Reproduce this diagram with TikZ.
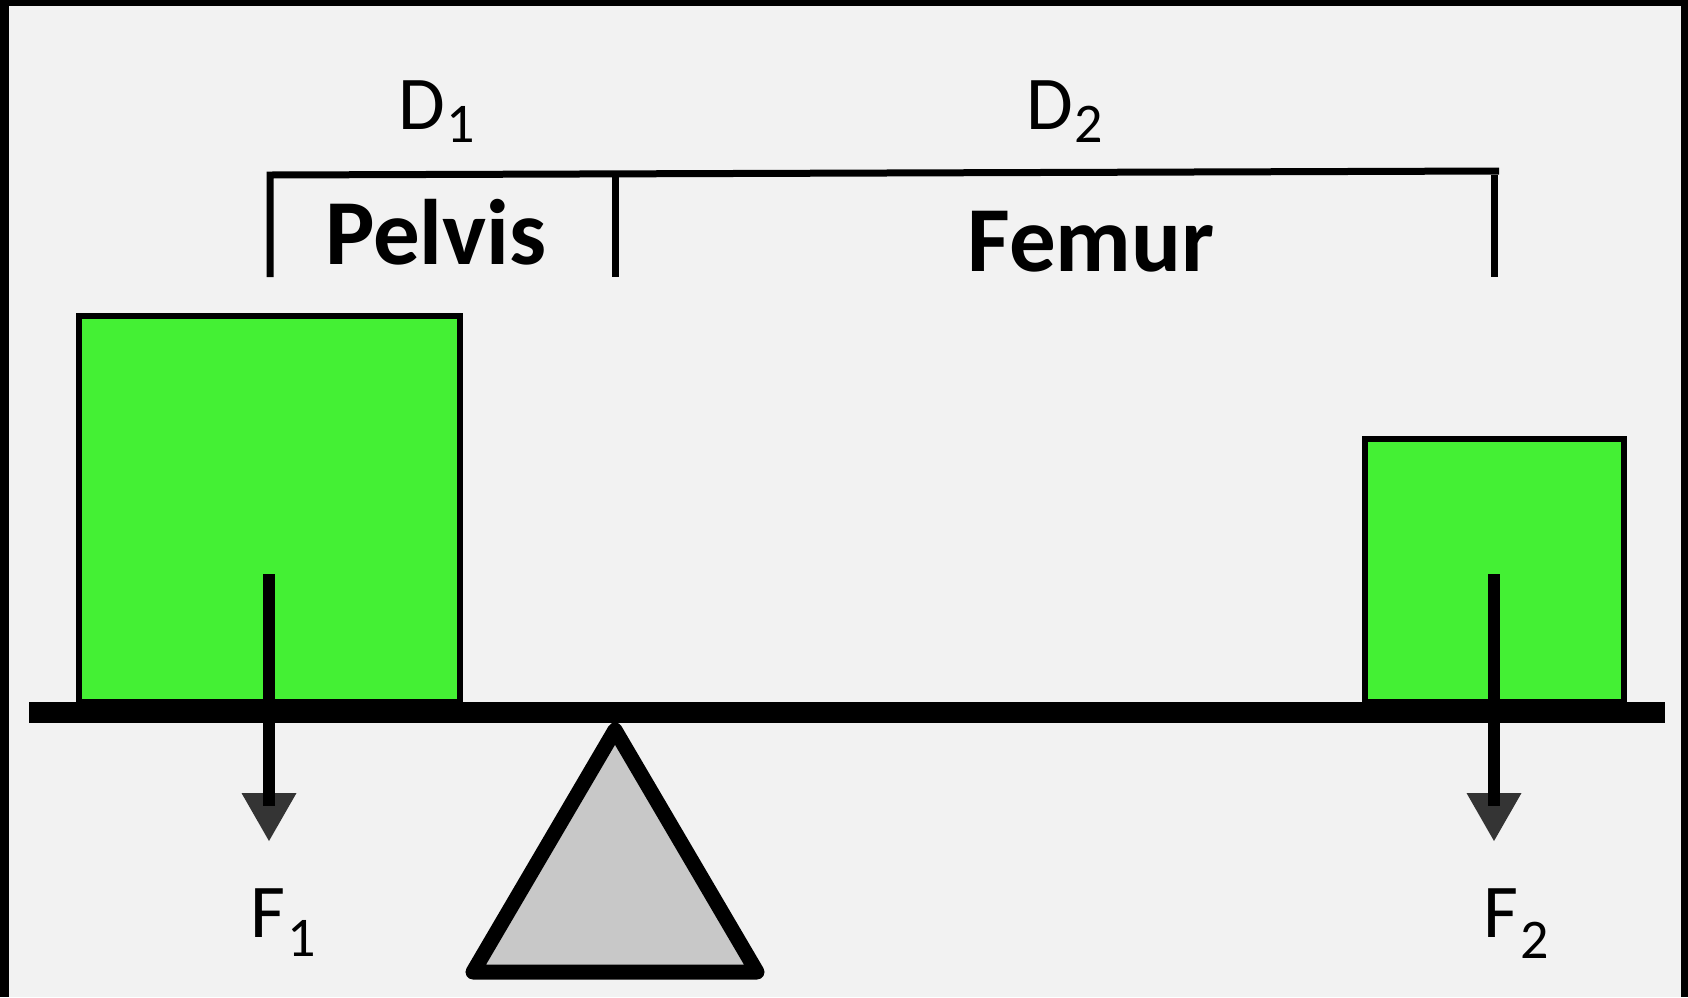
\documentclass[tikz,border=0pt]{standalone}
\usepackage{fontspec}
\newfontfamily\carlito{Carlito}
\definecolor{bgpaper}{RGB}{242,242,242}
\definecolor{weightgreen}{RGB}{68,240,52}
\definecolor{fulcrumgray}{RGB}{200,200,200}
\definecolor{headgray}{RGB}{52,52,52}
\tikzset{
  frame/.style={fill=black},
  paper/.style={fill=bgpaper},
  beam/.style={line width=21pt, black},
  weight/.style={draw=black, fill=weightgreen, line width=6.5pt, inner sep=0pt},
  fulcrum/.style={draw=black, fill=fulcrumgray, line width=15pt, line join=round},
  brace/.style={line width=7pt, black},
  shaft/.style={line width=12pt, black},
  tiphead/.style={fill=headgray},
  dimlabel/.style={font=\carlito\fontsize{76}{80}\selectfont, anchor=base west, inner sep=0pt},
  bonelabel/.style={font=\carlito\bfseries\fontsize{93}{98}\selectfont, anchor=base, inner sep=0pt},
}
\newcommand{\subdigit}[2]{\kern2pt\raisebox{-#2pt}{\fontsize{56}{60}\selectfont #1}}
\begin{document}
\begin{tikzpicture}[x=1pt, y=-1pt]
  \useasboundingbox (0,0) rectangle (1688,997);
  % frame and paper
  \fill[frame] (0,0) rectangle (1688,997);
  \fill[paper] (9,6) rectangle (1681,997);

  % fulcrum (drawn first so the beam covers its apex)
  \draw[fulcrum] (615,730) -- (757,972) -- (473,972) -- cycle;

  % weights resting on the beam
  \node[weight, minimum width=381pt, minimum height=386pt] (w1) at (269.5,509) {};
  \node[weight, minimum width=259pt, minimum height=263pt] (w2) at (1494.5,570.5) {};

  % beam
  \coordinate (beamL) at (29,712.5);
  \coordinate (beamR) at (1665,712.5);
  \draw[beam] (beamL) -- (beamR);

  % load arrows
  \coordinate (f1top) at (269,574);
  \coordinate (f1end) at (269,806);
  \coordinate (f1tip) at (269,841);
  \coordinate (f2top) at (1494,574);
  \coordinate (f2end) at (1494,806);
  \coordinate (f2tip) at (1494,841);
  \fill[tiphead] ([xshift=-27.5pt,yshift=48pt]f1tip) -- ([xshift=27.5pt,yshift=48pt]f1tip) -- (f1tip) -- cycle;
  \fill[tiphead] ([xshift=-27.5pt,yshift=48pt]f2tip) -- ([xshift=27.5pt,yshift=48pt]f2tip) -- (f2tip) -- cycle;
  \draw[shaft] (f1top) -- (f1end);
  \draw[shaft] (f2top) -- (f2end);

  % dimension bracket
  \coordinate (bL) at (270,277);
  \coordinate (bLtop) at (270,175);
  \coordinate (bMtop) at (615,173);
  \coordinate (bM) at (615,277);
  \coordinate (bRend) at (1499,171);
  \coordinate (bRtop) at (1494,175);
  \coordinate (bR) at (1494,277);
  \draw[brace, line join=miter] (bL) -- (bLtop) -- (bRend);
  \draw[brace] (bMtop) -- (bM);
  \draw[brace] (bRtop) -- (bR);

  % labels
  \node[bonelabel] (pelvis) at (436,264) {Pelvis};
  \node[bonelabel] (femur) at (1091,271) {Femur};
  \node[dimlabel] (d1) at (398,129) {D\subdigit{1}{13}};
  \node[dimlabel] (d2) at (1026,129) {D\subdigit{2}{13}};
  \node[dimlabel] (f1) at (250,937) {F\subdigit{1}{19}};
  \node[dimlabel] (f2) at (1483,937) {F\subdigit{2}{21}};
\end{tikzpicture}
\end{document}
